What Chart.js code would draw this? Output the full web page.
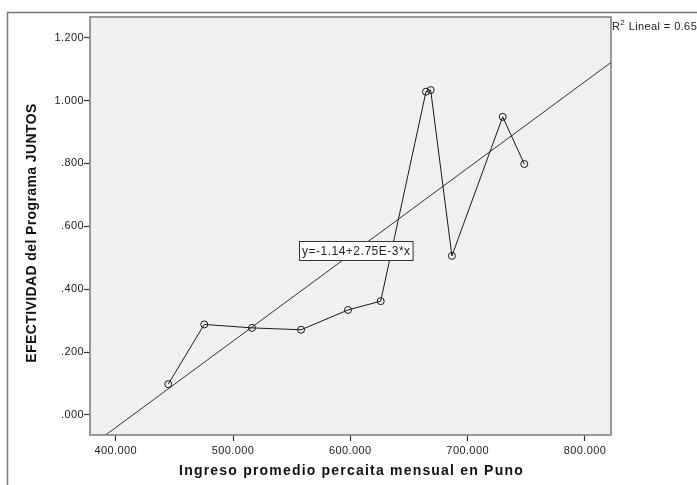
<!DOCTYPE html>
<html>
<head>
<meta charset="utf-8">
<script src="https://cdn.jsdelivr.net/npm/chart.js@4.4.1/dist/chart.umd.min.js"></script>
<style>
  html, body { margin: 0; padding: 0; background: #ffffff; }
  #wrap { width: 697px; height: 485px; position: relative; }
</style>
</head>
<body>
<div id="wrap"><canvas id="c" width="697" height="485"></canvas></div>
<script>
// ---- Data ----
const ingreso = [444.8, 475.5, 516.2, 558.0, 598.0, 625.9, 664.5, 668.5, 686.6, 729.9, 748.3];
const efectividad = [0.098, 0.288, 0.277, 0.271, 0.334, 0.362, 1.028, 1.033, 0.506, 0.948, 0.798];
const xTicks = [400, 500, 600, 700, 800];
const yTicks = [0, 0.2, 0.4, 0.6, 0.8, 1.0, 1.2];
const fitIntercept = -1.14;
const fitSlope = 0.00275;
const fitLabel = 'y=-1.14+2.75E-3*x';
const fitLabelAnchorX = 604.6;
const r2Label = 'Lineal = 0.65';
const xTitle = 'Ingreso promedio percaita mensual en Puno';
const yTitle = 'EFECTIVIDAD del Programa JUNTOS';
const xRange = [378.1, 822.2];
const yRange = [-0.0636, 1.2655];

const FONT = "'Liberation Sans', Arial, sans-serif";

const pointsData = ingreso.map((x, i) => ({ x: x, y: efectividad[i] }));
const fitData = xRange.map(x => ({ x: x, y: fitIntercept + fitSlope * x }));

function fmt(v) {
  let s = v.toFixed(3);
  if (s.startsWith('0.')) s = s.slice(1);
  if (s.startsWith('-0.')) s = '-' + s.slice(2);
  return s;
}

const decor = {
  id: 'decor',
  beforeDraw(chart) {
    const ctx = chart.ctx;
    const a = chart.chartArea;
    ctx.save();
    ctx.fillStyle = '#ffffff';
    ctx.fillRect(0, 0, chart.width, chart.height);
    // outer frame
    ctx.strokeStyle = '#7a7a7a';
    ctx.lineWidth = 1.5;
    ctx.beginPath();
    ctx.moveTo(7.5, chart.height);
    ctx.lineTo(7.5, 12.5);
    ctx.lineTo(chart.width, 12.5);
    ctx.stroke();
    // plot background
    ctx.fillStyle = '#f0f0f0';
    ctx.fillRect(a.left, a.top, a.right - a.left, a.bottom - a.top);
    ctx.restore();
    // slightly wider text, as in the reference rendering
    ctx.letterSpacing = '0.4px';
  },
  afterDraw(chart) {
    const ctx = chart.ctx;
    const a = chart.chartArea;
    const xs = chart.scales.x, ys = chart.scales.y;
    ctx.save();
    // plot frame
    ctx.strokeStyle = '#808080';
    ctx.lineWidth = 1.6;
    ctx.strokeRect(a.left, a.top, a.right - a.left, a.bottom - a.top);

    // axis titles
    ctx.fillStyle = '#111111';
    ctx.textAlign = 'center';
    ctx.textBaseline = 'middle';
    ctx.font = 'bold 14px ' + FONT;
    ctx.letterSpacing = '1.2px';
    ctx.fillText(xTitle, (a.left + a.right) / 2 + 1, 471);
    ctx.save();
    ctx.translate(32, 233);
    ctx.rotate(-Math.PI / 2);
    ctx.letterSpacing = '0.4px';
    ctx.fillText(yTitle, 0, 0);
    ctx.restore();

    // fit label box
    const cx = xs.getPixelForValue(fitLabelAnchorX);
    const cy = ys.getPixelForValue(fitIntercept + fitSlope * fitLabelAnchorX);
    ctx.font = '12px ' + FONT;
    ctx.letterSpacing = '0.5px';
    const tw = ctx.measureText(fitLabel).width;
    const bw = tw + 5, bh = 19;
    const bx = Math.round(cx - bw / 2) + 0.5, by = Math.round(cy - bh / 2) + 0.5;
    ctx.fillStyle = '#ffffff';
    ctx.fillRect(bx, by, bw, bh);
    ctx.strokeStyle = '#333333';
    ctx.lineWidth = 1;
    ctx.strokeRect(bx, by, bw, bh);
    ctx.fillStyle = '#222222';
    ctx.textAlign = 'left';
    ctx.textBaseline = 'middle';
    ctx.fillText(fitLabel, bx + 2.5, by + bh / 2 + 0.5);

    // R^2 label
    const rx = a.right + 1, ry = 27;
    ctx.letterSpacing = '0.4px';
    ctx.font = '11px ' + FONT;
    ctx.fillText('R', rx, ry);
    const rw = ctx.measureText('R').width;
    ctx.font = '8px ' + FONT;
    ctx.fillText('2', rx + rw, ry - 4);
    const sw = ctx.measureText('2').width;
    ctx.font = '11px ' + FONT;
    ctx.fillText(' ' + r2Label, rx + rw + sw, ry);
    ctx.restore();
  }
};

new Chart(document.getElementById('c'), {
  type: 'scatter',
  data: {
    datasets: [
      {
        type: 'line',
        label: 'fit',
        data: fitData,
        borderColor: '#333333',
        borderWidth: 1,
        pointRadius: 0,
        fill: false,
        tension: 0,
        order: 2
      },
      {
        type: 'line',
        label: 'EFECTIVIDAD',
        data: pointsData,
        borderColor: '#1a1a1a',
        borderWidth: 1,
        pointRadius: 3.5,
        pointStyle: 'circle',
        pointBackgroundColor: 'rgba(0,0,0,0)',
        pointBorderColor: '#1a1a1a',
        pointBorderWidth: 1,
        fill: false,
        tension: 0,
        order: 1
      }
    ]
  },
  options: {
    responsive: false,
    animation: false,
    events: [],
    layout: { padding: { left: 0, top: 17, right: 86, bottom: 0 } },
    plugins: { legend: { display: false }, tooltip: { enabled: false } },
    scales: {
      x: {
        type: 'linear',
        min: xRange[0],
        max: xRange[1],
        afterBuildTicks(s) { s.ticks = xTicks.map(v => ({ value: v })); },
        afterFit(s) { s.height = 50; },
        grid: { drawOnChartArea: false, drawTicks: true, tickLength: 6, tickColor: '#333333', tickWidth: 1.2 },
        border: { display: false },
        ticks: {
          padding: 3,
          color: '#222222',
          font: { family: FONT, size: 11 },
          maxRotation: 0,
          callback: v => v.toFixed(3)
        },
        title: { display: false, text: xTitle }
      },
      y: {
        type: 'linear',
        min: yRange[0],
        max: yRange[1],
        afterBuildTicks(s) { s.ticks = yTicks.map(v => ({ value: v })); },
        afterFit(s) { s.width = 90; },
        grid: { drawOnChartArea: false, drawTicks: true, tickLength: 6, tickColor: '#333333', tickWidth: 1.2 },
        border: { display: false },
        ticks: {
          padding: 0,
          color: '#222222',
          font: { family: FONT, size: 11 },
          callback: v => fmt(v)
        },
        title: { display: false, text: yTitle }
      }
    }
  },
  plugins: [decor]
});
</script>
</body>
</html>
